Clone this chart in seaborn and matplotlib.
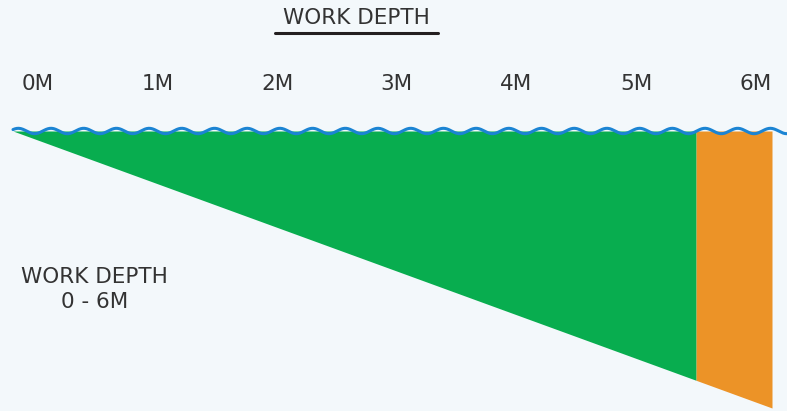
import numpy as np
import pandas as pd
import matplotlib
matplotlib.use('Agg')
import matplotlib.pyplot as plt
from matplotlib.lines import Line2D
import seaborn as sns

# data
depth_marks = [0, 1, 2, 3, 4, 5, 6]
depth_labels = ['0M', '1M', '2M', '3M', '4M', '5M', '6M']
work_depth_max = 6.0      # full range shown
green_end = 5.4           # green zone ends here, orange beyond
title_text = 'WORK DEPTH'
side_text = ['WORK DEPTH', '0 - 6M']

# colours
bg = '#f3f8fb'
green = '#08ad4f'
orange = '#ec9327'
wave_col = '#1b84d3'
text_col = '#333333'
fs = 15.5

sns.set_theme(style='white')
plt.rcParams['font.family'] = ['DejaVu Sans']

W, H = 787, 411
fig = plt.figure(figsize=(W / 100, H / 100), dpi=100, facecolor=bg)

# main axes: depth 0 at px (13,131), depth 6 at px (772,408)
ax = fig.add_axes([13 / W, (H - 408) / H, (772 - 13) / W, (408 - 131) / H])
ax.set_facecolor(bg)
ax.set_xlim(0, work_depth_max)
ax.set_ylim(work_depth_max, 0)

xg = np.array([0, green_end])
ax.fill_between(xg, 0, xg, color=green, linewidth=0)
xo = np.array([green_end, work_depth_max])
ax.fill_between(xo, 0, xo, color=orange, linewidth=0)

# decorative water surface
px_x = (772 - 13) / work_depth_max
px_y = (408 - 131) / work_depth_max
period = 32.7 / px_x
amp = 2.7 / px_y
x_end = work_depth_max + (W - 772) / px_x
wx = np.linspace(0, x_end, 800)
wy = -amp * np.cos(2 * np.pi * (wx - 5.3 / px_x) / period)
wave = pd.DataFrame({'x': wx, 'y': wy})
sns.lineplot(data=wave, x='x', y='y', ax=ax, color=wave_col, linewidth=2.2,
             sort=False, estimator=None)
for l in ax.lines:
    l.set_clip_on(False)

ax.set_xlabel('')
ax.set_ylabel('')
ax.set_xticks([])
ax.set_yticks([])
sns.despine(ax=ax, left=True, bottom=True)

# depth scale along the top
ax2 = ax.twiny()
step = 119.6
ax2.set_xlim((13 - 38) / step, (772 - 38) / step)
ax2.set_xticks(depth_marks)
ax2.set_xticklabels(depth_labels, fontsize=fs, color=text_col)
ax2.tick_params(axis='x', length=0, pad=27)
ax2.set_yticks([])
for s in ax2.spines.values():
    s.set_visible(False)

# title with underline
fig.text(356 / W, 1 - 24 / H, title_text, ha='center', va='baseline',
         fontsize=fs, color=text_col)
fig.add_artist(Line2D([275 / W, 438 / W], [1 - 33.3 / H, 1 - 33.3 / H],
                      color='#231f20', linewidth=2.2))

# side label
fig.text(94.5 / W, 1 - 283.3 / H, side_text[0], ha='center', va='baseline',
         fontsize=fs, color=text_col)
fig.text(94.5 / W, 1 - 308.3 / H, side_text[1], ha='center', va='baseline',
         fontsize=fs, color=text_col)

fig.savefig('out.png', dpi=100, facecolor=bg)
